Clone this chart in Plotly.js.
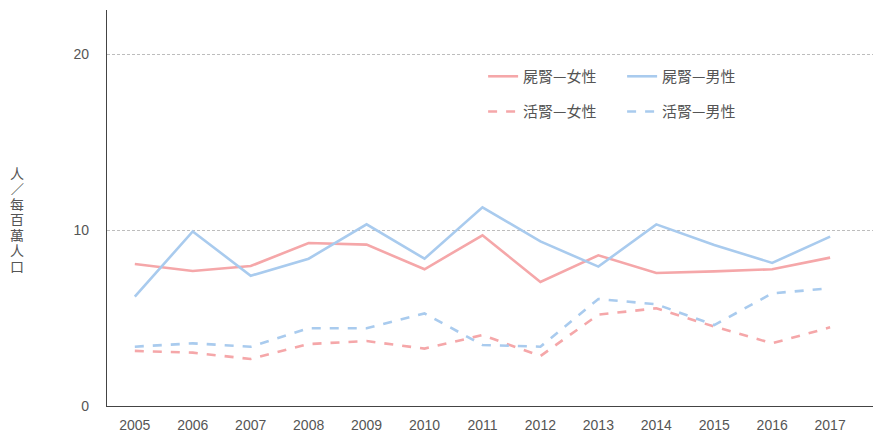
<!DOCTYPE html>
<html><head><meta charset="utf-8">
<script src="https://cdn.plot.ly/plotly-3.0.1.min.js"></script>
<style>html,body{margin:0;padding:0;background:#fff}#c{width:875px;height:434px}</style>
</head><body><div id="c"></div>
<script>
const years = [2005,2006,2007,2008,2009,2010,2011,2012,2013,2014,2015,2016,2017];
const cadFemale = [8.07,7.67,7.95,9.26,9.17,7.77,9.70,7.05,8.56,7.56,7.65,7.77,8.43];
const cadMale   = [6.21,9.92,7.40,8.37,10.32,8.37,11.29,9.35,7.92,10.32,9.15,8.13,9.62];
const livFemale = [3.13,3.03,2.67,3.52,3.69,3.26,4.03,2.84,5.19,5.55,4.51,3.56,4.47];
const livMale   = [3.37,3.56,3.37,4.42,4.42,5.26,3.47,3.37,6.08,5.78,4.60,6.40,6.69];
const names = ['屍腎—女性','屍腎—男性','活腎—女性','活腎—男性'];
const yTitle = '人／每百萬人口';

const pink = '#f5a7a9', blue = '#a9cbee';
const tickFont = {family:'Liberation Sans, Arial, sans-serif', size:14, color:'#555'};
const traces = [
  {x:years,y:cadFemale,name:names[0],mode:'lines',line:{color:pink,width:2.6},legend:'legend'},
  {x:years,y:cadMale,name:names[1],mode:'lines',line:{color:blue,width:2.6},legend:'legend'},
  {x:years,y:livFemale,name:names[2],mode:'lines',line:{color:pink,width:2.6,dash:'dash'},legend:'legend2'},
  {x:years,y:livMale,name:names[3],mode:'lines',line:{color:blue,width:2.6,dash:'dash'},legend:'legend2'}
];
const legStyle = {orientation:'h',xanchor:'left',yanchor:'middle',bgcolor:'rgba(0,0,0,0)',
  font:{family:'Noto Sans CJK TC, sans-serif',size:15,color:'#555'},entrywidth:94,entrywidthmode:'pixels',itemwidth:30};
const titleAnnots = yTitle.split('').map((ch,i)=>({
  text:ch,xref:'paper',yref:'paper',x:-0.117,y:0.589-i*15.5/396,
  xanchor:'center',yanchor:'middle',showarrow:false,height:14,width:16,
  font:{family:'Noto Sans CJK TC, sans-serif',size:14,color:'#555'}}));
const layout = {
  width:875,height:434,
  margin:{l:107,r:2,t:10,b:28},
  paper_bgcolor:'#fff',plot_bgcolor:'#fff',
  font:tickFont,
  showlegend:true,
  legend:Object.assign({x:0.491,y:0.832},legStyle),
  legend2:Object.assign({x:0.491,y:0.743},legStyle),
  xaxis:{range:[2004.52,2017.74],tickvals:years,ticktext:years.map(String),showgrid:false,zeroline:false,
    showline:true,linecolor:'#444',linewidth:1.2,ticks:'outside',ticklen:6,tickcolor:'rgba(0,0,0,0)',
    tickfont:tickFont},
  yaxis:{range:[0,22.5],tickvals:[0,10,20],showgrid:true,gridcolor:'#bdbdbd',griddash:'3px,2px',gridwidth:1,zeroline:false,
    showline:true,linecolor:'#444',linewidth:1.2,ticks:'outside',ticklen:14,tickcolor:'rgba(0,0,0,0)',
    tickfont:tickFont},
  annotations:titleAnnots
};
Plotly.newPlot('c',traces,layout,{displayModeBar:false,staticPlot:true});
</script></body></html>
